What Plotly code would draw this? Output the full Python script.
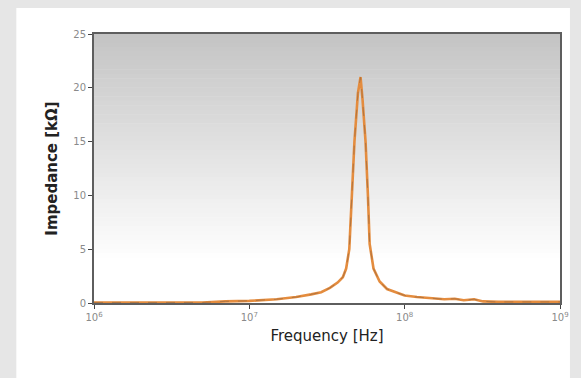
import plotly.graph_objects as go

# Impedance sweep (frequency in Hz, impedance in kΩ)
freq_hz = [1e6, 5e6, 7e6, 1e7, 1.5e7, 2e7, 2.5e7, 2.9e7, 3.3e7, 3.7e7, 4.0e7, 4.2e7,
           4.4e7, 4.5e7, 4.6e7, 4.75e7, 5.0e7, 5.2e7, 5.35e7, 5.6e7, 5.8e7, 5.95e7,
           6.3e7, 6.9e7, 7.7e7, 8.7e7, 1.0e8, 1.2e8, 1.5e8, 1.8e8, 2.1e8, 2.4e8,
           2.8e8, 3.2e8, 4e8, 6e8, 1e9]
impedance_kohm = [0.05, 0.05, 0.15, 0.2, 0.35, 0.55, 0.8, 1.0, 1.4, 1.9, 2.4, 3.2,
                  5.0, 8.0, 11.0, 15.0, 19.5, 21.0, 19.0, 15.0, 10.0, 5.5,
                  3.2, 2.0, 1.3, 1.0, 0.7, 0.55, 0.45, 0.35, 0.4, 0.25,
                  0.35, 0.15, 0.1, 0.08, 0.1]

x_tick_vals = [1e6, 1e7, 1e8, 1e9]
x_tick_text = ["10<sup>6</sup>", "10<sup>7</sup>", "10<sup>8</sup>", "10<sup>9</sup>"]
y_tick_vals = [0, 5, 10, 15, 20, 25]

W, H = 581, 378
L, R, T, B = 94, 19, 34, 75
plot_w = W - L - R
plot_h = H - T - B

fig = go.Figure()
fig.add_trace(go.Scatter(x=freq_hz, y=impedance_kohm, mode="lines",
                         line=dict(color="#e48c3e", width=2.6), hoverinfo="skip"))
fig.add_trace(go.Scatter(x=freq_hz, y=impedance_kohm, mode="lines",
                         line=dict(color="#a8703f", width=1.0, dash="dash"),
                         opacity=0.8, hoverinfo="skip"))

shapes = []
# white panel on the gray page
shapes.append(dict(type="rect", xref="paper", yref="paper",
                   x0=(16 - L) / plot_w, x1=(572 - L) / plot_w,
                   y0=-0.4, y1=(plot_h + T - 8) / plot_h,
                   fillcolor="white", line=dict(width=0), layer="below"))
# vertical gray-to-white gradient in the plot area
n = 60
top_c, bot_c = (196, 196, 196), (255, 255, 255)
for i in range(n):
    f = i / (n - 1)
    g = min(1.0, f / 0.85)
    c = tuple(int(round(top_c[k] + (bot_c[k] - top_c[k]) * g)) for k in range(3))
    shapes.append(dict(type="rect", xref="paper", yref="paper",
                       x0=0, x1=1, y0=1 - (i + 1) / n, y1=1 - i / n + 0.002,
                       fillcolor="rgb(%d,%d,%d)" % c, line=dict(width=0), layer="below"))

fig.update_layout(
    width=W, height=H,
    margin=dict(l=L, r=R, t=T, b=B),
    paper_bgcolor="#e6e6e6",
    plot_bgcolor="white",
    showlegend=False,
    shapes=shapes,
    font=dict(family="DejaVu Sans", color="#888888", size=10),
)
fig.update_xaxes(type="log", range=[6, 9], tickvals=x_tick_vals, ticktext=x_tick_text,
                 showgrid=False, zeroline=False, showline=True, mirror=True,
                 linecolor="#5e5e5e", linewidth=2, ticks="outside", ticklen=4,
                 tickcolor="#444444", tickfont=dict(size=10, color="#8a8a8a"),
                 title=dict(text="Frequency [Hz]", standoff=8,
                            font=dict(size=15, color="#222222", family="DejaVu Sans")))
fig.update_yaxes(range=[0, 25], tickvals=y_tick_vals, showgrid=False, zeroline=False,
                 showline=True, mirror=True, linecolor="#5e5e5e", linewidth=2,
                 ticks="outside", ticklen=4, tickcolor="#444444",
                 tickfont=dict(size=10, color="#8a8a8a"),
                 title=dict(text="<b>Impedance [kΩ]</b>", standoff=12,
                            font=dict(size=15, color="#222222", family="DejaVu Sans")))

fig.write_html("out.html")
